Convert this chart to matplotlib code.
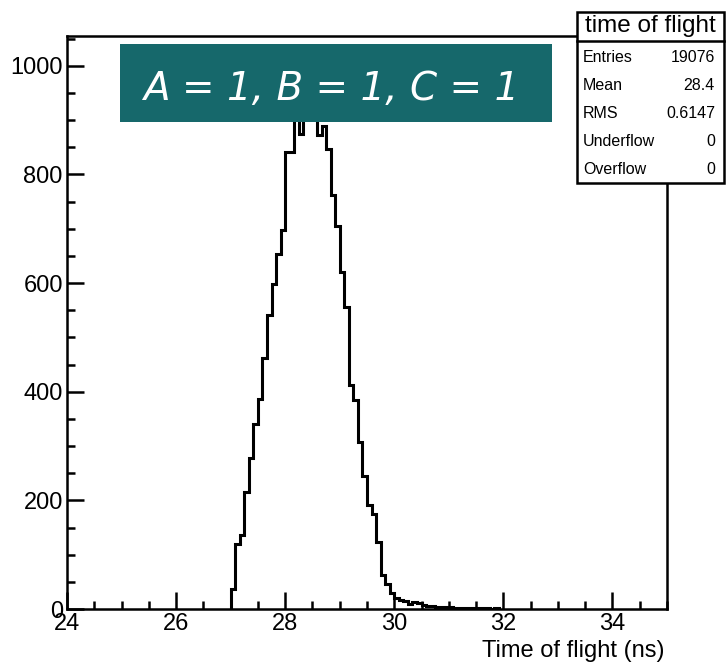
import matplotlib
matplotlib.use('Agg')
import matplotlib.pyplot as plt
from matplotlib.patches import Rectangle
from matplotlib.ticker import MultipleLocator
import numpy as np

# time of flight histogram: bins of 1/12 ns starting at 27 ns
bin_start = 27.0
bin_width = 1.0 / 12
counts = [37, 120, 137, 215, 278, 340, 386, 462, 541, 599,
          653, 697, 842, 842, 965, 875, 1005, 985, 940, 872,
          889, 847, 762, 706, 621, 556, 413, 385, 307, 244,
          191, 175, 124, 62, 46, 29, 21, 16, 14, 9,
          12, 11, 8, 6, 5, 4, 4, 3, 3, 2,
          2, 2, 1, 2, 1, 1, 1, 0, 1]

stats_title = "time of flight"
stats_labels = ["Entries", "Mean", "RMS", "Underflow", "Overflow"]
stats_values = ["19076", "28.4", "0.6147", "0", "0"]

banner_text = "A = 1, B = 1, C = 1"
banner_color = '#16686B'

W, H = 726, 663
plt.rcParams['font.family'] = ['Liberation Sans', 'DejaVu Sans']

fig = plt.figure(figsize=(W / 100, H / 100), dpi=100)
fig.patch.set_facecolor('white')


def fx(x):
    return x / W


def fy(y):
    return 1 - y / H


# frame in pixel units
left, right, top, bottom = 67, 667, 36, 609
ax = fig.add_axes([fx(left), fy(bottom), (right - left) / W, (bottom - top) / H])

edges = bin_start + bin_width * np.arange(len(counts) + 1)
ax.stairs(counts, edges, color='black', linewidth=2.2, baseline=0)

ax.set_xlim(24, 35)
ax.set_ylim(0, 1055)
ax.set_xticks(np.arange(24, 35, 2))
ax.xaxis.set_minor_locator(MultipleLocator(0.5))
ax.set_yticks(np.arange(0, 1001, 200))
ax.yaxis.set_minor_locator(MultipleLocator(50))

for s in ax.spines.values():
    s.set_linewidth(1.8)
ax.tick_params(which='both', direction='in', top=False, right=False,
               width=1.8, labelsize=17)
ax.tick_params(which='major', length=12)
ax.tick_params(which='minor', length=5.5)
ax.tick_params(axis='x', pad=3)
ax.tick_params(axis='y', pad=3)

fig.text(fx(665), fy(651), "Time of flight (ns)", ha='right', va='center',
         fontsize=17)

# banner box over the peak
fig.add_artist(Rectangle((fx(120), fy(122)), (552 - 120) / W, (122 - 44) / H,
                         transform=fig.transFigure, facecolor=banner_color,
                         edgecolor='none', zorder=5))
fig.text(fx(331), fy(89), banner_text, ha='center', va='center',
         color='white', fontsize=28, style='oblique', family='DejaVu Sans',
         zorder=6)

# statistics box
sx0, sx1, sy0, sy1, sep = 577, 724, 12, 183, 41
fig.add_artist(Rectangle((fx(sx0), fy(sy1)), (sx1 - sx0) / W, (sy1 - sy0) / H,
                         transform=fig.transFigure, facecolor='white',
                         edgecolor='black', linewidth=1.8, zorder=5))
fig.add_artist(plt.Line2D([fx(sx0), fx(sx1)], [fy(sep), fy(sep)],
                          transform=fig.transFigure, color='black',
                          linewidth=1.8, zorder=6))
fig.text(fx((sx0 + sx1) / 2), fy(26), stats_title, ha='center', va='center',
         fontsize=17.5, zorder=7)
for i, (lab, val) in enumerate(zip(stats_labels, stats_values)):
    yy = 57 + i * 28
    fig.text(fx(583), fy(yy), lab, ha='left', va='center', fontsize=11.5, zorder=7)
    fig.text(fx(715), fy(yy), val, ha='right', va='center', fontsize=11.5, zorder=7)

fig.savefig('out.png', dpi=100, facecolor='white')
